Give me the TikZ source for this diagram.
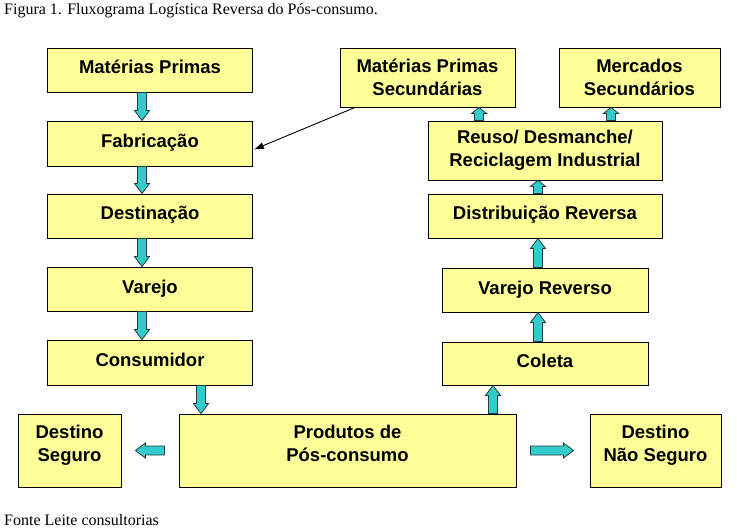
\documentclass[tikz,border=0pt]{standalone}
\usepackage{fontspec}
\setmainfont{Liberation Serif}
\newfontfamily\boxfont{Liberation Sans}
\usetikzlibrary{calc,arrows.meta}
\definecolor{boxyellow}{RGB}{255,255,153}
\definecolor{arrowteal}{RGB}{51,204,204}
\definecolor{arrowedge}{RGB}{40,60,60}
\tikzset{
  fbox/.style={draw=black, line width=0.9pt, fill=boxyellow, inner sep=0pt,
    align=center, font=\boxfont\bfseries\fontsize{18.5}{23}\selectfont},
  oneline/.style={text height=14pt, text depth=6pt},
  blockarrow/.style={fill=arrowteal, draw=arrowedge, line width=0.8pt, line join=miter,
    to path={
      coordinate (S)
      ($(\tikztotarget)!#1!(\tikztostart)$) coordinate (H)
      ($(S)!4.5pt!-90:(H)$) -- ($(H)!4.5pt!90:(S)$) -- ($(H)!7.5pt!90:(S)$)
      -- (\tikztotarget) -- ($(H)!7.5pt!-90:(S)$) -- ($(H)!4.5pt!-90:(S)$)
      -- ($(S)!4.5pt!90:(H)$) -- cycle
    }},
  blockarrow/.default=10pt,
  caption/.style={font=\fontsize{16}{18}\selectfont, anchor=west, inner sep=0pt}
}
\begin{document}
\begin{tikzpicture}[x=1pt,y=-1pt]
\useasboundingbox (0,0) rectangle (737,532);
\node[caption] (cap) at (4,11) {Figura 1. Fluxograma Logística Reversa do Pós-consumo.};
\node[caption] (src) at (4,520) {Fonte Leite consultorias};

% left column
\node[fbox, oneline, minimum width=205pt, minimum height=44pt] (mp)   at (150,70)  {Matérias Primas};
\node[fbox, oneline, minimum width=205pt, minimum height=45pt] (fab)  at (150,143.5) {Fabricação};
\node[fbox, oneline, minimum width=205pt, minimum height=44pt] (dest) at (150,216) {Destinação};
\node[fbox, oneline, minimum width=205pt, minimum height=44pt] (var)  at (150,289) {Varejo};
\node[fbox, oneline, minimum width=205pt, minimum height=45pt] (cons) at (150,362.5) {Consumidor};

% bottom row
\node[fbox, minimum width=103pt, minimum height=73pt] (seg)  at (69.5,450.5) {Destino\\Seguro\\[-9pt]\mbox{}};
\node[fbox, minimum width=337pt, minimum height=73pt] (prod) at (347.5,450.5) {Produtos de\\Pós-consumo\\[-9pt]\mbox{}};
\node[fbox, minimum width=131pt, minimum height=73pt] (nseg) at (655.5,450.5) {Destino\\Não Seguro\\[-9pt]\mbox{}};

% right column
\node[fbox, oneline, minimum width=206pt, minimum height=43pt] (col)  at (545,363.5) {Coleta};
\node[fbox, oneline, minimum width=206pt, minimum height=44pt] (vrev) at (545,290) {Varejo Reverso};
\node[fbox, oneline, minimum width=234pt, minimum height=44pt] (dist) at (545,216) {Distribuição Reversa};
\node[fbox, minimum width=234pt, minimum height=59pt] (reuso) at (545,150.5) {Reuso/ Desmanche/\\Reciclagem Industrial};
\node[fbox, minimum width=175pt, minimum height=59pt] (mps)  at (427.5,77.5) {Matérias Primas\\Secundárias};
\node[fbox, minimum width=161pt, minimum height=59pt] (merc) at (639.5,77.5) {Mercados\\Secundários};

% left column arrows
\draw[blockarrow] ([xshift=-8pt]mp.south)   to ([xshift=-8pt]fab.north);
\draw[blockarrow] ([xshift=-8pt]fab.south)  to ([xshift=-8pt]dest.north);
\draw[blockarrow] ([xshift=-8pt]dest.south) to ([xshift=-8pt]var.north);
\draw[blockarrow] ([xshift=-8pt]var.south)  to ([xshift=-8pt]cons.north);
\coordinate (c1) at (201,0);
\draw[blockarrow] (cons.south -| c1) to (prod.north -| c1);

% side arrows
\coordinate (lA) at ($(prod.west)+(-14pt,0)$);
\coordinate (lB) at ($(seg.east)+(14pt,0)$);
\draw[blockarrow] (lA) to (lB);
\coordinate (rA) at ($(prod.east)+(14pt,0)$);
\coordinate (rB) at ($(nseg.west)+(-16pt,0)$);
\draw[blockarrow] (rA) to (rB);

% right column arrows
\coordinate (c2) at (493,0);
\draw[blockarrow] (prod.north -| c2) to (col.south -| c2);
\coordinate (c3) at (538,0);
\draw[blockarrow] (col.north -| c3)  to (vrev.south -| c3);
\draw[blockarrow] (vrev.north -| c3) to (dist.south -| c3);
\draw[blockarrow=6pt] (dist.north -| c3) to (reuso.south -| c3);
\coordinate (c4) at (479,0);
\draw[blockarrow=6pt] (reuso.north -| c4) to (mps.south -| c4);
\coordinate (c5) at (611,0);
\draw[blockarrow=6pt] (reuso.north -| c5) to (merc.south -| c5);

% thin arrow
\coordinate (t1) at (355,0);
\draw[-{Latex[length=10pt,width=7pt]}, line width=0.9pt] (mps.south -| t1) -- ($(fab.east)+(1pt,-6pt)$);
\end{tikzpicture}
\end{document}
